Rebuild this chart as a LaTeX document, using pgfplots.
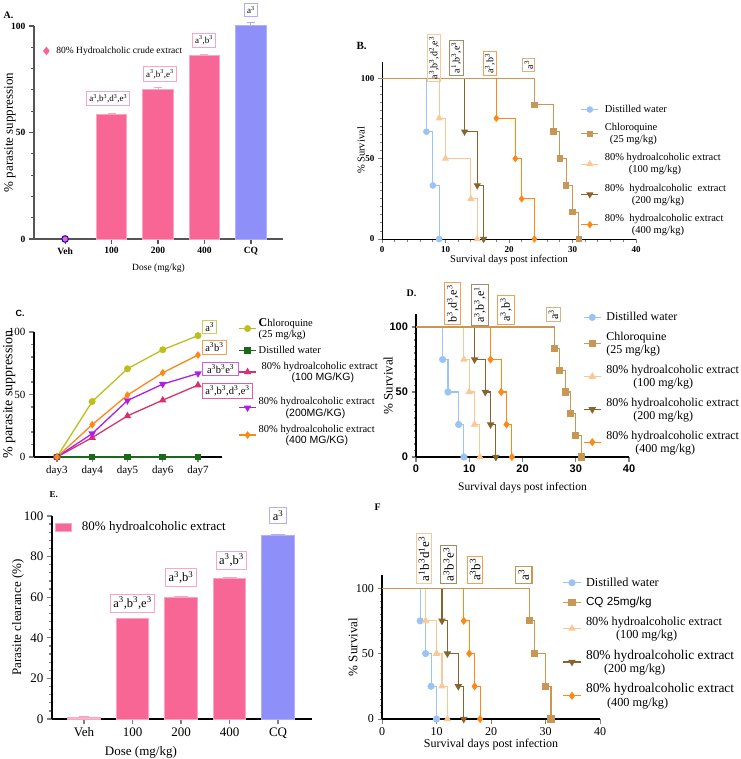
\documentclass[border=0pt]{standalone}
\usepackage{fontspec}
\setmainfont{Liberation Serif}
\setsansfont{Liberation Sans}
\usepackage{pgfplots}
\usepackage{pgfplotstable}
\pgfplotsset{compat=1.18}
\pgfplotsset{/pgf/number format/assume math mode=true}

\definecolor{barpink}{RGB}{247,102,149}
\definecolor{pinkedge}{RGB}{250,165,195}
\definecolor{vehpink}{RGB}{250,185,205}
\definecolor{cqblue}{RGB}{143,143,250}
\definecolor{cqedge}{RGB}{175,175,252}
\definecolor{axgray}{RGB}{85,85,85}
\definecolor{dwblue}{RGB}{155,195,245}
\definecolor{cqtan}{RGB}{200,150,85}
\definecolor{peach}{RGB}{250,200,150}
\definecolor{dbrown}{RGB}{135,100,45}
\definecolor{orng}{RGB}{255,135,20}
\definecolor{ygreen}{RGB}{190,190,30}
\definecolor{dgreen}{RGB}{25,105,25}
\definecolor{crimson}{RGB}{215,50,110}
\definecolor{purp}{RGB}{175,30,230}
\definecolor{boxpeach}{RGB}{248,200,155}
\definecolor{boxbrown}{RGB}{165,140,105}
\definecolor{boxorng}{RGB}{245,160,80}
\definecolor{boxtan}{RGB}{215,180,135}
\definecolor{boxyg}{RGB}{205,205,95}
\definecolor{boxpurp}{RGB}{195,100,240}
\definecolor{boxcrim}{RGB}{225,95,160}

\newcommand\fs[2]{\fontsize{#1}{#2}\selectfont}
\newcommand\su[1]{\textsuperscript{#1}}

\pgfplotsset{
  km/.style={const plot, mark phase=2, mark repeat=1, forget plot},
  prism/.style={scale only axis, anchor=south west, clip=false, axis lines*=left,
    tick align=outside, legend cell align=left},
  boxlegend/.style={legend image code/.code={\draw[##1] (0pt,-4pt) rectangle (16pt,4pt);}},
}

% ---------- Panel A ----------
\pgfplotstableread{
x y err
1 58.3 0.5
2 70.4 0.6
3 86.2 0.5
}\tabAext
\pgfplotstableread{
x y err
4 100 1.5
}\tabAcq
\pgfplotstableread{
x y
0 0
}\tabAveh
% ---------- Panel B ----------
\pgfplotstableread{
x y
0 100
7 66.7
8 33.3
9 0
}\BDW
\pgfplotstableread{
x y
0 100
24 83.3
27 66.7
28 50
29 33.3
30 16.7
31 0
}\BCQ
\pgfplotstableread{
x y
0 100
9 75
10 50
14 25
15 0
}\BLo
\pgfplotstableread{
x y
0 100
13 66.7
15 33.3
16 0
}\BMid
\pgfplotstableread{
x y
0 100
18 75
21 50
22 25
24 0
}\BHi
% ---------- Panel C ----------
\pgfplotstableread{
x cq dw e100 e200 e400
0 0 0 0 0 0
1 44.4 0 15.5 18.7 25.9
2 70.6 0 32.9 45.2 49.5
3 85.8 0 45.5 58.3 67.4
4 97.1 0 57.5 66.8 81.6
}\tabC
% ---------- Panel D ----------
\pgfplotstableread{
x y
0 100
5 75
6 50
8 25
9 0
}\DDW
\pgfplotstableread{
x y
0 100
26 83.3
27 66.7
28 50
29 33.3
30 16.7
31 0
}\DCQ
\pgfplotstableread{
x y
0 100
9 75
10 50
11 25
12 0
}\DLo
\pgfplotstableread{
x y
0 100
11 75
13 50
14 25
15 0
}\DMid
\pgfplotstableread{
x y
0 100
14 75
16 50
17 25
18 0
}\DHi
% ---------- Panel E ----------
\pgfplotstableread{
x y err
1 49.3 0.3
2 59.7 0.5
3 69.1 0.4
}\tabEext
\pgfplotstableread{
x y err
4 90.2 0.5
}\tabEcq
\pgfplotstableread{
x y err
0 0.9 0.5
}\tabEveh
% ---------- Panel F ----------
\pgfplotstableread{
x y
0 100
7 75
8 50
9 25
10 0
}\FDW
\pgfplotstableread{
x y
0 100
27 75
28 50
30 25
31 0
}\FCQ
\pgfplotstableread{
x y
0 100
8 75
10 50
11 25
12 0
}\FLo
\pgfplotstableread{
x y
0 100
11 75
12 50
14 25
15 0
}\FMid
\pgfplotstableread{
x y
0 100
15 75
16 50
17 25
18 0
}\FHi

\begin{document}
\begin{tikzpicture}
\useasboundingbox (0pt,0pt) rectangle (740pt,-759pt);

% panel letters
\node[anchor=west, font=\bfseries\fs{10}{12}] at (0pt,-15pt) {A.};
\node[anchor=west, font=\bfseries\fs{11}{13}] at (353pt,-46pt) {B.};
\node[anchor=west, font=\sffamily\bfseries\fs{9}{11}] at (12pt,-313pt) {C.};
\node[anchor=west, font=\bfseries\fs{10}{12}] at (403pt,-293pt) {D.};
\node[anchor=west, font=\bfseries\fs{9}{11}] at (46pt,-495pt) {E.};
\node[anchor=west, font=\bfseries\fs{10}{12}] at (371pt,-507pt) {F};

% ================= A =================
\begin{axis}[prism, at={(34pt,-239pt)}, width=249pt, height=213pt,
  xmin=-0.67, xmax=4.69, ymin=0, ymax=100,
  axis line style={line width=1.4pt, color=axgray},
  tick style={line width=1.1pt, color=axgray},
  major tick length=5pt, minor tick length=3pt,
  xtick={0,1,2,3,4}, xticklabels={Veh,100,200,400,CQ},
  ytick={0,50,100}, minor y tick num=4,
  tick label style={font=\bfseries\fs{9.5}{11}},
  xlabel={Dose (mg/kg)}, xlabel style={font=\fs{9.5}{11}, at={(axis description cs:0.5,-0.136)}, anchor=center},
  ylabel={\% parasite suppression}, ylabel style={font=\fs{13}{15}, at={(axis description cs:-0.097,0.5)}, anchor=center},
  legend style={at={(axis description cs:0.025,0.883)}, anchor=west, draw=none, fill=none, font=\fs{9.5}{11},
    /tikz/every odd column/.append style={column sep=5pt}},
]
\addplot[ybar, bar width=0.66, fill=barpink, draw=pinkedge, line width=1pt, forget plot,
  error bars/.cd, y dir=plus, y explicit, error bar style={line width=1pt, pinkedge},
  error mark options={rotate=90, line width=1pt, pinkedge, mark size=4pt}]
  table[x=x, y=y, y error=err]{\tabAext};
\addplot[ybar, bar width=0.66, fill=cqblue, draw=cqedge, line width=1pt, forget plot,
  error bars/.cd, y dir=plus, y explicit, error bar style={line width=1pt, cqedge},
  error mark options={rotate=90, line width=1pt, cqedge, mark size=4pt}]
  table[x=x, y=y, y error=err]{\tabAcq};
\addplot[only marks, mark=*, mark size=3.3pt, mark options={fill=barpink, draw=blue, line width=1pt}, forget plot]
  table[x=x, y=y]{\tabAveh};
\addlegendimage{only marks, mark=diamond*, mark size=4pt, color=barpink}
\addlegendentry{80\% Hydroalcholic crude extract}
\node[draw=pinkedge, line width=1pt, inner sep=2.5pt, font=\fs{9}{10}] at (axis cs:0.93,65.9) {a\su3,b\su3,d\su3,e\su3};
\node[draw=pinkedge, line width=1pt, inner sep=2.5pt, font=\fs{9}{10}] at (axis cs:2.04,77.5) {a\su3,b\su3,e\su3};
\node[draw=pinkedge, line width=1pt, inner sep=2.5pt, font=\fs{9}{10}] at (axis cs:2.99,93.2) {a\su3,b\su3};
\node[draw=cqedge, line width=1pt, inner sep=2.5pt, font=\fs{9}{10}] at (axis cs:4.0,107.5) {a\su3};
\end{axis}

% ================= B =================
\begin{axis}[prism, at={(382pt,-239pt)}, width=254pt, height=177pt,
  xmin=0, xmax=40, ymin=0, ymax=110,
  axis line style={line width=1pt},
  tick style={line width=0.9pt},
  major tick length=4pt, minor tick length=2.5pt,
  xtick={0,10,20,30,40}, minor x tick num=4,
  ytick={0,50,100}, minor y tick num=9,
  tick label style={font=\bfseries\fs{9}{10}},
  xlabel={Survival days post infection}, xlabel style={font=\fs{10.5}{12}, at={(axis description cs:0.5,-0.117)}, anchor=center},
  ylabel={\% Survival}, ylabel style={font=\fs{10.5}{12}, at={(axis description cs:-0.083,0.5)}, anchor=center},
  legend style={at={(axis description cs:0.77,0.78)}, anchor=north west, draw=none, fill=none,
    font=\fs{10.5}{12}, row sep=5.5pt, cells={align=left},
    /tikz/every odd column/.append style={column sep=4pt}},
]
\addplot[km, dwblue, line width=1pt, mark=*, mark size=2.8pt] table{\BDW};
\addplot[km, peach, line width=1pt, mark=triangle*, mark size=3.2pt] table{\BLo};
\addplot[km, dbrown, line width=1pt, mark=triangle*, mark options={rotate=180}, mark size=3.2pt] table{\BMid};
\addplot[km, orng, line width=1pt, mark=diamond*, mark size=3pt] table{\BHi};
\addplot[km, cqtan, line width=1pt, mark=square*, mark size=2.8pt] table{\BCQ};
\addlegendimage{dwblue, line width=1pt, mark=*, mark size=2.8pt}
\addlegendentry{Distilled water}
\addlegendimage{cqtan, line width=1pt, mark=square*, mark size=2.8pt}
\addlegendentry{Chloroquine\\\hspace*{5pt}(25 mg/kg)}
\addlegendimage{peach, line width=1pt, mark=triangle*, mark size=3.2pt}
\addlegendentry{80\% hydroalcoholic extract\\\hspace*{24pt}(100 mg/kg)}
\addlegendimage{dbrown, line width=1pt, mark=triangle*, mark options={rotate=180}, mark size=3.2pt}
\addlegendentry{80\%\ \ hydroalcoholic\ \ extract\\\hspace*{27pt}(200 mg/kg)}
\addlegendimage{orng, line width=1pt, mark=diamond*, mark size=3pt}
\addlegendentry{80\%\ \ hydroalcoholic extract\\\hspace*{27pt}(400 mg/kg)}
\node[draw=boxpeach, line width=1pt, rotate=90, inner sep=2pt, font=\fs{10}{11}] at (axis cs:8.2,112.4) {a\su3,b\su3,d\su2,e\su3};
\node[draw=boxbrown, line width=1pt, rotate=90, inner sep=2pt, font=\fs{10}{11}] at (axis cs:11.7,112.7) {a\su1,b\su3,e\su3};
\node[draw=boxorng, line width=1pt, rotate=90, inner sep=2pt, font=\fs{10}{11}] at (axis cs:17.0,109) {a\su3,b\su3};
\node[draw=boxtan, line width=1pt, rotate=90, inner sep=2pt, font=\fs{10}{11}] at (axis cs:23.1,108) {a\su3};
\end{axis}

% ================= C =================
\begin{axis}[prism, at={(34pt,-457pt)}, width=188pt, height=125pt,
  xmin=-0.65, xmax=4.68, ymin=0, ymax=100,
  axis line style={line width=1.8pt},
  tick style={line width=1.3pt},
  major tick length=5pt, minor tick length=3pt,
  xtick={0,1,2,3,4}, xticklabels={day3,day4,day5,day6,day7},
  ytick={0,50,100}, minor y tick num=4,
  tick label style={font=\fs{11}{13}},
  ylabel={\% parasite suppression}, ylabel style={font=\fs{14}{16}, at={(axis description cs:-0.132,0.5)}, anchor=center},
  legend style={at={(axis description cs:1.07,1.145)}, anchor=north west, draw=none, fill=none,
    font=\fs{10.5}{11.5}, row sep=3pt, cells={align=left}},
]
\addplot[ygreen, line width=1.3pt, mark=*, mark size=2.8pt] table[x=x, y=cq]{\tabC};
\addlegendentry{{\bfseries\fs{12}{12}C}hloroquine\\(25 mg/kg)}
\addplot[dgreen, line width=1.3pt, mark=square*, mark size=2.6pt] table[x=x, y=dw]{\tabC};
\addlegendentry{Distilled water}
\addplot[crimson, line width=1.3pt, mark=triangle*, mark size=3pt] table[x=x, y=e100]{\tabC};
\addlegendentry{\hspace*{3pt}80\% hydroalcoholic extract\\\hspace*{33pt}{\sffamily (100 MG/KG)}}
\addlegendimage{empty legend}
\addlegendentry{}
\addplot[purp, line width=1.3pt, mark=triangle*, mark options={rotate=180}, mark size=3pt] table[x=x, y=e200]{\tabC};
\addlegendentry{80\% hydroalcoholic extract\\\hspace*{27pt}{\sffamily (200MG/KG)}}
\addplot[orng, line width=1.3pt, mark=diamond*, mark size=2.8pt] table[x=x, y=e400]{\tabC};
\addlegendentry{80\% hydroalcoholic extract\\\hspace*{27pt}{\sffamily (400 MG/KG)}}
\node[draw=boxyg, line width=1pt, inner sep=2.5pt, anchor=west, font=\fs{10.5}{12}] at (axis cs:4.12,104) {a\su3};
\node[draw=boxorng, line width=1pt, inner sep=2.5pt, anchor=west, font=\fs{10.5}{12}] at (axis cs:4.12,87.6) {a\su3b\su3};
\node[draw=boxpurp, line width=1pt, inner sep=2.5pt, anchor=west, font=\fs{10.5}{12}] at (axis cs:4.12,70.4) {\,a\su3b\su3e\su3\,};
\node[draw=boxcrim, line width=1pt, inner sep=2.5pt, anchor=west, font=\fs{10.5}{12}] at (axis cs:4.12,52.8) {a\su3,b\su3,d\su3,e\su3};
\end{axis}

% ================= D =================
\begin{axis}[prism, at={(416pt,-457pt)}, width=213pt, height=143pt,
  xmin=0, xmax=40, ymin=0, ymax=110,
  axis line style={line width=1.4pt},
  tick style={line width=1.1pt},
  major tick length=4.5pt, minor tick length=2.5pt,
  xtick={0,10,20,30,40},
  ytick={0,50,100}, minor y tick num=9,
  tick label style={font=\sffamily\bfseries\fs{11}{13}},
  xlabel={Survival days post infection}, xlabel style={font=\fs{11.5}{13}, at={(axis description cs:0.5,-0.217)}, anchor=center},
  ylabel={\% Survival}, ylabel style={font=\fs{13}{15}, at={(axis description cs:-0.131,0.5)}, anchor=center},
  legend style={at={(axis description cs:0.77,1.04)}, anchor=north west, draw=none, fill=none,
    font=\fs{12}{13}, row sep=6pt, cells={align=left},
    /tikz/every odd column/.append style={column sep=3pt}},
]
\addplot[km, dwblue, line width=1.1pt, mark=*, mark size=3pt] table{\DDW};
\addplot[km, peach, line width=1.1pt, mark=triangle*, mark size=3.3pt] table{\DLo};
\addplot[km, dbrown, line width=1.1pt, mark=triangle*, mark options={rotate=180}, mark size=3.3pt] table{\DMid};
\addplot[km, orng, line width=1.1pt, mark=diamond*, mark size=3.2pt] table{\DHi};
\addplot[km, cqtan, line width=1.1pt, mark=square*, mark size=3pt] table{\DCQ};
\addlegendimage{dwblue, line width=1.1pt, mark=*, mark size=3pt}
\addlegendentry{Distilled water}
\addlegendimage{cqtan, line width=1.1pt, mark=square*, mark size=3pt}
\addlegendentry{Chloroquine\\(25 mg/kg)}
\addlegendimage{peach, line width=1.1pt, mark=triangle*, mark size=3.3pt}
\addlegendentry{80\% hydroalcoholic extract\\\hspace*{27pt}(100 mg/kg)}
\addlegendimage{dbrown, line width=1.1pt, mark=triangle*, mark options={rotate=180}, mark size=3.3pt}
\addlegendentry{80\% hydroalcoholic extract\\\hspace*{27pt}(200 mg/kg)}
\addlegendimage{orng, line width=1.1pt, mark=diamond*, mark size=3.2pt}
\addlegendentry{80\% hydroalcoholic extract\\\hspace*{29pt}(400 mg/kg)}
\node[draw=boxorng, line width=1pt, rotate=90, inner sep=2.5pt, font=\fs{12}{13}] at (axis cs:6.9,118) {b\su3,d\su3,e\su3};
\node[draw=boxbrown, line width=1pt, rotate=90, inner sep=2.5pt, font=\fs{12}{13}] at (axis cs:12.0,117) {a\su3,b\su3,e\su1};
\node[draw=boxorng, line width=1pt, rotate=90, inner sep=2.5pt, font=\fs{12}{13}] at (axis cs:16.9,113) {a\su3,b\su3};
\node[draw=boxtan, line width=1pt, rotate=90, inner sep=2.5pt, font=\fs{12}{13}] at (axis cs:25.8,109.6) {a\su3};
\end{axis}

% ================= E =================
\begin{axis}[prism, at={(52pt,-719pt)}, width=260pt, height=203pt,
  xmin=-0.66, xmax=4.70, ymin=0, ymax=100,
  axis line style={line width=1.8pt},
  tick style={line width=1.3pt},
  major tick length=5pt, minor tick length=3pt,
  xtick={0,1,2,3,4}, xticklabels={Veh,100,200,400,CQ},
  ytick={0,20,40,60,80,100}, minor y tick num=4,
  tick label style={font=\fs{13}{15}},
  xlabel={Dose (mg/kg)}, xlabel style={font=\fs{13}{15}, at={(axis description cs:0.342,-0.163)}, anchor=center},
  ylabel={Parasite clearance (\%)}, ylabel style={font=\fs{13}{15}, at={(axis description cs:-0.131,0.5)}, anchor=center},
  legend style={at={(axis description cs:0.0,0.946)}, anchor=west, draw=none, fill=none, font=\fs{13}{15},
    /tikz/every odd column/.append style={column sep=8pt}},
]
\addplot[ybar, bar width=0.67, fill=vehpink, draw=pinkedge, line width=1pt, forget plot,
  error bars/.cd, y dir=plus, y explicit, error bar style={line width=1pt, pinkedge},
  error mark options={rotate=90, line width=1pt, pinkedge, mark size=5pt}]
  table[x=x, y=y, y error=err]{\tabEveh};
\addplot[ybar, bar width=0.67, fill=barpink, draw=pinkedge, line width=1pt, forget plot,
  error bars/.cd, y dir=plus, y explicit, error bar style={line width=1pt, pinkedge},
  error mark options={rotate=90, line width=1pt, pinkedge, mark size=7pt}]
  table[x=x, y=y, y error=err]{\tabEext};
\addplot[ybar, bar width=0.67, fill=cqblue, draw=cqedge, line width=1pt, forget plot,
  error bars/.cd, y dir=plus, y explicit, error bar style={line width=1pt, cqedge},
  error mark options={rotate=90, line width=1pt, cqedge, mark size=7pt}]
  table[x=x, y=y, y error=err]{\tabEcq};
\addlegendimage{boxlegend, fill=barpink, draw=pinkedge, line width=0.8pt}
\addlegendentry{80\% hydroalcoholic extract}
\node[draw=pinkedge, line width=1pt, inner sep=3pt, font=\fs{12.5}{14}] at (axis cs:1.0,57.1) {a\su3,b\su3,e\su3};
\node[draw=pinkedge, line width=1pt, inner sep=3pt, font=\fs{12.5}{14}] at (axis cs:2.0,69.7) {a\su3,b\su3};
\node[draw=pinkedge, line width=1pt, inner sep=3pt, font=\fs{12.5}{14}] at (axis cs:3.04,78.3) {a\su3,b\su3};
\node[draw=cqedge, line width=1pt, inner sep=3pt, font=\fs{12.5}{14}] at (axis cs:4.0,100.2) {a\su3};
\end{axis}

% ================= F =================
\begin{axis}[prism, at={(382pt,-719pt)}, width=218pt, height=144pt,
  xmin=0, xmax=40, ymin=0, ymax=110,
  axis line style={line width=1.2pt},
  tick style={line width=1pt},
  major tick length=4.5pt, minor tick length=2.5pt,
  xtick={0,10,20,30,40},
  ytick={0,50,100}, minor y tick num=9,
  tick label style={font=\fs{12}{14}},
  xlabel={Survival days post infection}, xlabel style={font=\fs{12}{14}, at={(axis description cs:0.5,-0.18)}, anchor=center},
  ylabel={\% Survival}, ylabel style={font=\fs{13}{15}, at={(axis description cs:-0.133,0.5)}, anchor=center},
  legend style={at={(axis description cs:0.815,1.01)}, anchor=north west, draw=none, fill=none,
    font=\fs{12.3}{13.5}, row sep=5.5pt, cells={align=left},
    /tikz/every odd column/.append style={column sep=3pt}},
]
\addplot[km, dwblue, line width=1.1pt, mark=*, mark size=3pt] table{\FDW};
\addplot[km, peach, line width=1.1pt, mark=triangle*, mark size=3.3pt] table{\FLo};
\addplot[km, dbrown, line width=1.1pt, mark=triangle*, mark options={rotate=180}, mark size=3.3pt] table{\FMid};
\addplot[km, orng, line width=1.1pt, mark=diamond*, mark size=3.2pt] table{\FHi};
\addplot[km, cqtan, line width=1.1pt, mark=square*, mark size=3pt] table{\FCQ};
\addlegendimage{dwblue, line width=1.1pt, mark=*, mark size=3pt}
\addlegendentry{Distilled water}
\addlegendimage{cqtan, line width=1.1pt, mark=square*, mark size=3pt}
\addlegendentry{{\sffamily\fs{11.7}{13}CQ 25mg/kg}}
\addlegendimage{peach, line width=1.1pt, mark=triangle*, mark size=3.3pt}
\addlegendentry{80\% hydroalcoholic extract\\\hspace*{30pt}(100 mg/kg)}
\addlegendimage{dbrown, line width=1.1pt, mark=triangle*, mark options={rotate=180}, mark size=3.3pt}
\addlegendentry{{\fs{13.4}{15}80\% hydroalcoholic extract}\\\hspace*{18pt}(200 mg/kg)}
\addlegendimage{orng, line width=1.1pt, mark=diamond*, mark size=3.2pt}
\addlegendentry{{\fs{13.4}{15}80\% hydroalcoholic extract}\\\hspace*{21pt}(400 mg/kg)}
\node[draw=boxpeach, line width=1pt, rotate=90, inner sep=2.5pt, font=\fs{13}{14}] at (axis cs:7.7,122.5) {a\su1b\su3d\su1e\su3};
\node[draw=boxbrown, line width=1pt, rotate=90, inner sep=2.5pt, font=\fs{13}{14}] at (axis cs:12.2,118) {a\su3b\su3e\su3};
\node[draw=boxorng, line width=1pt, rotate=90, inner sep=2.5pt, font=\fs{13}{14}] at (axis cs:17.1,114) {a\su3b\su3};
\node[draw=cqtan, line width=1.3pt, rotate=90, inner sep=3pt, font=\fs{13}{14}] at (axis cs:26.0,110) {a\su3};
\end{axis}
\end{tikzpicture}
\end{document}
